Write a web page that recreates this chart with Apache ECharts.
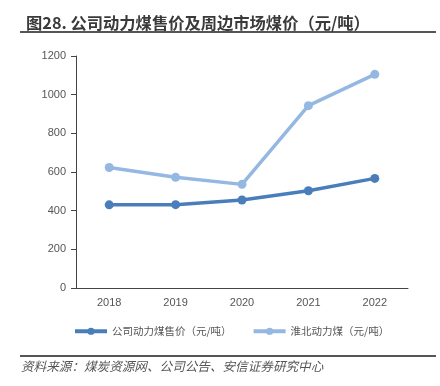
<!DOCTYPE html>
<html><head><meta charset="utf-8">
<script src="https://cdn.jsdelivr.net/npm/echarts@6/dist/echarts.min.js"></script>
<style>html,body{margin:0;padding:0;background:#fff}#c{width:440px;height:386px}</style>
</head><body><div id="c"></div>
<script>
const categories = ['2018','2019','2020','2021','2022'];
const companyPrice = [430, 431, 455, 503, 567];
const huaibeiPrice = [623, 573, 536, 943, 1105];
const seriesNames = ['公司动力煤售价（元/吨）','淮北动力煤（元/吨）'];
const yTicks = {min:0, max:1200, interval:200};

const chart = echarts.init(document.getElementById('c'));
const font = '"Noto Sans CJK SC", sans-serif';
chart.setOption({
  animation:false,
  title:{text:'图28. 公司动力煤售价及周边市场煤价（元/吨）', left:21, top:10,
    textStyle:{fontSize:16.3, fontWeight:'bold', color:'#3a3a3a', fontFamily:font}},
  graphic:[
    {type:'line', shape:{x1:20,y1:32,x2:436,y2:32}, style:{stroke:'#555',lineWidth:2}},
    {type:'line', shape:{x1:20,y1:356,x2:436,y2:356}, style:{stroke:'#555',lineWidth:2}},
    {type:'text', left:21, top:360, style:{text:'资料来源：煤炭资源网、公司公告、安信证券研究中心',
      fill:'#555', font:'italic 12.6px "Noto Sans CJK SC", sans-serif'}}
  ],
  legend:{top:321, left:68, itemWidth:32, itemHeight:9, itemGap:20,
    lineStyle:{width:4},
    textStyle:{fontSize:10.5, color:'#555', fontFamily:font},
    data:seriesNames},
  grid:{left:76, right:32, top:56, bottom:98},
  xAxis:{type:'category', data:categories,
    axisLine:{lineStyle:{color:'#444'}}, axisTick:{lineStyle:{color:'#444'}},
    axisLabel:{color:'#555', fontSize:11, margin:9, fontFamily:'Liberation Sans, Arial, sans-serif'}},
  yAxis:{type:'value', min:yTicks.min, max:yTicks.max, interval:yTicks.interval,
    axisLine:{show:true, lineStyle:{color:'#444'}}, axisTick:{show:true, lineStyle:{color:'#444'}},
    splitLine:{show:false},
    axisLabel:{color:'#555', fontSize:11, margin:10, formatter:v=>String(v), fontFamily:'Liberation Sans, Arial, sans-serif'}},
  series:[
    {name:seriesNames[0], type:'line', data:companyPrice, symbol:'circle', symbolSize:9,
      lineStyle:{width:3.5, color:'#4A7EBB'}, itemStyle:{color:'#4A7EBB'}},
    {name:seriesNames[1], type:'line', data:huaibeiPrice, symbol:'circle', symbolSize:9,
      lineStyle:{width:3.5, color:'#95B8E2'}, itemStyle:{color:'#95B8E2'}}
  ]
});
</script></body></html>
